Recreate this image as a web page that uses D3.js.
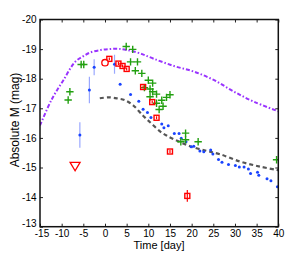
<!DOCTYPE html>
<html><head><meta charset="utf-8">
<script src="https://cdn.jsdelivr.net/npm/d3@7"></script>
<style>body{margin:0;background:#fff}svg{display:block}text{font-family:"Liberation Sans",Arial,sans-serif}</style>
</head><body><svg id="c" width="308" height="255"></svg>
<script>
const xTicks = [-15,-10,-5,0,5,10,15,20,25,30,35,40];
const yTicks = [-20,-19,-18,-17,-16,-15,-14,-13];
// purple dash-dot model curve [day, mag]
const purpleCurve = [[-15,-16.42],[-12.3,-17.3],[-9.6,-17.95],[-6.9,-18.57],[-5,-18.76],[-3.5,-18.88],[-1,-18.97],[1,-19.0],[3,-19.01],[5,-18.97],[8,-18.86],[11.3,-18.67],[15.9,-18.43],[20.5,-18.24],[25.2,-17.95],[29.8,-17.56],[34.4,-17.22],[40,-16.9]];
// gray dashed model curve
const grayCurve = [[-1.2,-17.34],[1,-17.37],[3,-17.33],[4.5,-17.28],[6.5,-17.1],[8.8,-16.75],[10.4,-16.53],[12.7,-16.22],[14.2,-16.08],[16,-15.95],[19.6,-15.72],[23.5,-15.56],[26.5,-15.45],[31.2,-15.2],[35.8,-15.03],[40,-14.91]];
// blue points with error bars [day, mag, err]
const blueErr = [[-5.8,-16.1,0.43],[-3.6,-17.62,0.45],[-2.5,-18.39,0.27],[2.2,-18.49,0.32]];
// blue points
const blueDays = [3.5,5.9,7.8,8.8,9.8,10.6,13.1,13.6,14.6,16.0,17.1,17.6,18.7,19.9,20.5,21.9,22.8,24.4,24.9,26.2,27.0,28.5,30.1,31.0,32.1,33.1,33.6,35.2,35.5,37.4,38.3,39.8];
const blueMags = [-17.81,-17.47,-17.24,-16.97,-16.86,-16.69,-16.47,-16.34,-16.41,-16.15,-16.15,-15.99,-15.87,-15.7,-15.72,-15.56,-15.53,-15.59,-15.46,-15.27,-15.18,-15.1,-15.07,-15.02,-15.02,-14.95,-14.8,-14.84,-14.74,-14.62,-14.55,-14.35];
// green crosses
const greenDays = [-8.5,-8.1,-5.5,-4.9,4.9,6.4,5.9,7.5,7.0,8.5,10.0,11.0,9.1,10.4,11.0,11.9,10.4,13.1,14.2,15.0,11.9,13.4,12.5,18.6,18.6,17.5,21.5,39.6];
const greenMags = [-17.28,-17.56,-18.48,-18.48,-19.09,-18.99,-18.57,-18.57,-18.27,-18.18,-17.95,-17.85,-17.7,-17.65,-17.56,-17.48,-17.39,-17.27,-17.37,-17.46,-17.17,-17.07,-16.96,-16.16,-15.94,-15.87,-15.87,-15.26];
// red squares [day, mag, err]
const redSquares = [[1.0,-18.67,0.05],[3.1,-18.51,0.05],[4.05,-18.43,0.05],[5.0,-18.33,0.05],[8.8,-17.72,0.05],[10.9,-17.21,0.05],[11.9,-16.68,0.05],[15.0,-15.54,0.05],[19.0,-14.04,0.2]];
const redCircle = [[0,-18.54]];
const redTriangle = [[-6.9,-15.04]];

const svg = d3.select("#c");
const x = d3.scaleLinear().domain([-15,40]).range([40,278.3]);
const y = d3.scaleLinear().domain([-20,-13]).range([19.5,226.7]);
const fmt = d => String(d);

svg.append("clipPath").attr("id","clp").append("rect")
  .attr("x",40).attr("y",19.5).attr("width",238.3).attr("height",207.2);
const g = svg.append("g").attr("clip-path","url(#clp)");

const line = d3.line().x(d=>x(d[0])).y(d=>y(d[1])).curve(d3.curveCatmullRom);
g.append("path").datum(purpleCurve).attr("d",line).attr("fill","none")
  .attr("stroke","#9933ff").attr("stroke-width",2).attr("stroke-dasharray","4,2,1.5,2");
g.append("path").datum(grayCurve).attr("d",line).attr("fill","none")
  .attr("stroke","#555").attr("stroke-width",2.2).attr("stroke-dasharray","4,3");

g.selectAll(".be").data(blueErr).join("line")
  .attr("x1",d=>x(d[0])).attr("x2",d=>x(d[0]))
  .attr("y1",d=>y(d[1]-d[2])).attr("y2",d=>y(d[1]+d[2]))
  .attr("stroke","#9aa8ff").attr("stroke-width",1.2);
g.selectAll(".bd").data(blueErr.map(d=>[d[0],d[1]]).concat(blueDays.map((d,i)=>[d,blueMags[i]]))).join("circle")
  .attr("cx",d=>x(d[0])).attr("cy",d=>y(d[1])).attr("r",1.5).attr("fill","#1a44ff");

const gd = greenDays.map((d,i)=>[d,greenMags[i]]);
g.selectAll(".gc").data(gd).join("path")
  .attr("d",d=>{const cx=x(d[0]),cy=y(d[1]);return `M${cx-3.7},${cy}H${cx+3.7}M${cx},${cy-3.7}V${cy+3.7}`;})
  .attr("stroke","#22a010").attr("stroke-width",1.4).attr("fill","none");

g.selectAll(".re").data(redSquares).join("line")
  .attr("x1",d=>x(d[0])).attr("x2",d=>x(d[0]))
  .attr("y1",d=>y(d[1]-d[2])).attr("y2",d=>y(d[1]+d[2]))
  .attr("stroke","#ff0000").attr("stroke-width",1.2);
g.selectAll(".rs").data(redSquares).join("rect")
  .attr("x",d=>x(d[0])-2.5).attr("y",d=>y(d[1])-2.5).attr("width",5).attr("height",5)
  .attr("fill","none").attr("stroke","#ff0000").attr("stroke-width",1.4);
g.selectAll(".rc").data(redCircle).join("circle")
  .attr("cx",d=>x(d[0])).attr("cy",d=>y(d[1])).attr("r",3.2)
  .attr("fill","#fff").attr("stroke","#ff0000").attr("stroke-width",1.3);
g.selectAll(".rt").data(redTriangle).join("path")
  .attr("d",d=>{const cx=x(d[0]),cy=y(d[1]);return `M${cx-5},${cy-4}L${cx+5},${cy-4}L${cx},${cy+4.5}Z`;})
  .attr("fill","none").attr("stroke","#ff0000").attr("stroke-width",1.3);

const ax = svg.append("g");
const bAx = ax.append("g").attr("transform",`translate(0,${y(-13)})`)
  .call(d3.axisBottom(x).tickValues(xTicks).tickFormat(fmt).tickSizeInner(-3).tickSizeOuter(0).tickPadding(3.5));
ax.append("g").attr("transform",`translate(0,${y(-20)})`)
  .call(d3.axisTop(x).tickValues(xTicks).tickFormat("").tickSizeInner(-3).tickSizeOuter(0));
const lAx = ax.append("g").attr("transform",`translate(${x(-15)},0)`)
  .call(d3.axisLeft(y).tickValues(yTicks).tickFormat(fmt).tickSizeInner(-3).tickSizeOuter(0).tickPadding(3.5));
ax.append("g").attr("transform",`translate(${x(40)},0)`)
  .call(d3.axisRight(y).tickValues(yTicks).tickFormat("").tickSizeInner(-3).tickSizeOuter(0));
ax.selectAll(".domain").remove();
ax.selectAll(".tick line").attr("stroke","#222").attr("stroke-width",1);
ax.selectAll(".tick text").attr("font-size",10).attr("fill","#000").attr("font-family","Liberation Sans, Arial, sans-serif");
// keep the corner labels "-13" and "-15" from colliding
lAx.selectAll(".tick text").filter(d=>d===-13).attr("dy","0.02em");
bAx.selectAll(".tick text").filter(d=>d===-15).attr("dx","0.15em");
svg.append("rect").attr("x",x(-15)).attr("y",y(-20)).attr("width",x(40)-x(-15)).attr("height",y(-13)-y(-20))
  .attr("fill","none").attr("stroke","#111").attr("stroke-width",1.5);

svg.append("text").attr("x",159).attr("y",249).attr("text-anchor","middle").attr("font-size",11).text("Time [day]");
svg.append("text").attr("transform","translate(19,120) rotate(-90)").attr("text-anchor","middle").attr("font-size",12).text("Absolute M (mag)");
</script></body></html>
